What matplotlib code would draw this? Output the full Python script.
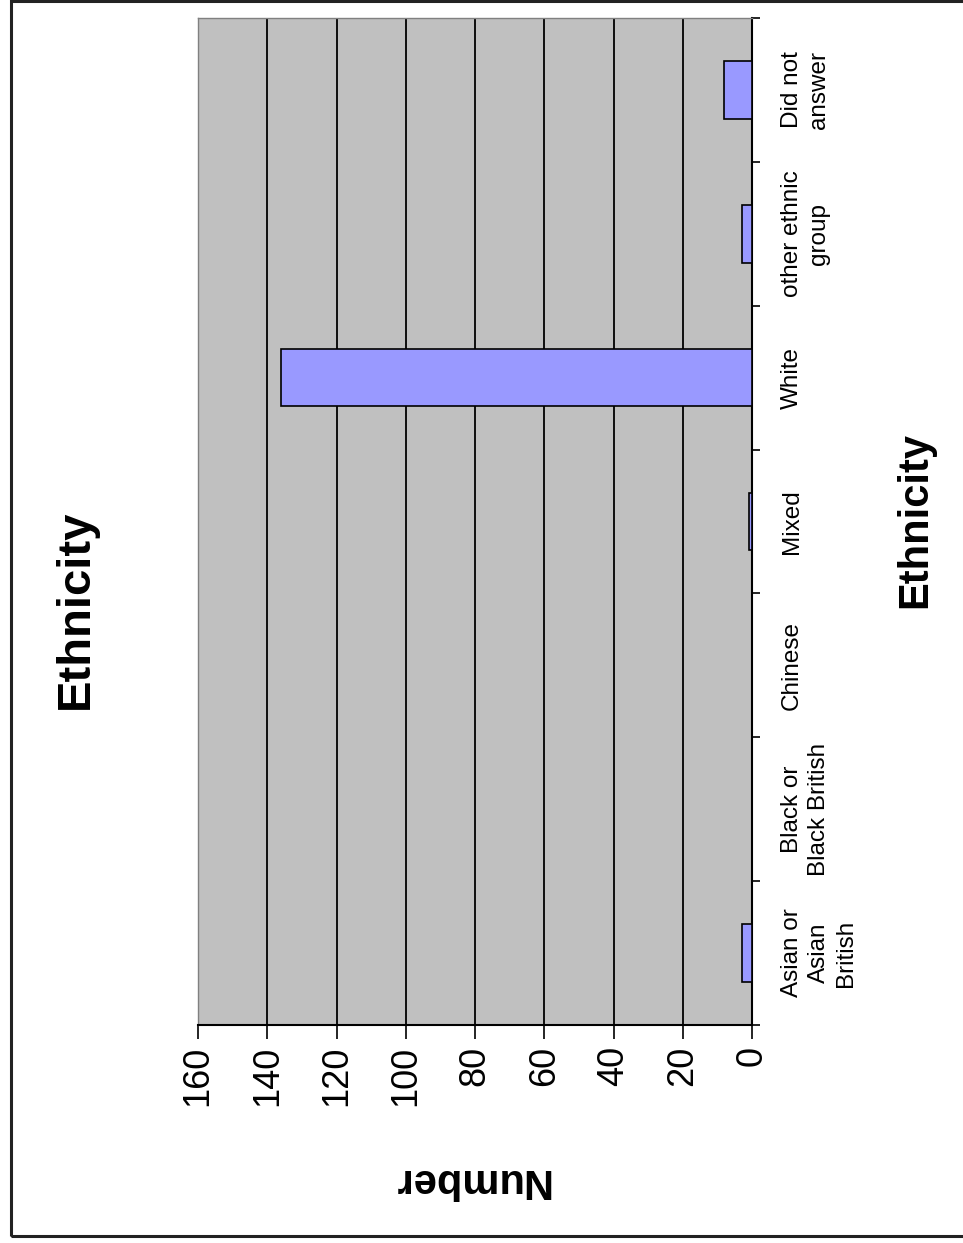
import matplotlib
matplotlib.use("Agg")
import matplotlib.pyplot as plt
from matplotlib.patches import Rectangle

plt.rcParams['font.family'] = ['Liberation Sans', 'DejaVu Sans']

# survey responses by ethnic group
categories = ["Asian or\nAsian\nBritish", "Black or\nBlack British", "Chinese",
              "Mixed", "White", "other ethnic\ngroup", "Did not\nanswer"]
counts = [3, 0, 0, 1, 136, 3, 8]
value_ticks = [0, 20, 40, 60, 80, 100, 120, 140, 160]

fig = plt.figure(figsize=(9.63, 12.43), dpi=100)
fig.patch.set_facecolor("white")

# chart is laid out sideways: values run right-to-left, categories bottom-to-top
ax = fig.add_axes([198 / 963, 1 - 1025 / 1243, 554 / 963, 1007 / 1243])
ax.set_facecolor("#C0C0C0")
ypos = list(range(len(categories)))
ax.barh(ypos, counts, height=0.4, color="#9999FF", edgecolor="black",
        linewidth=1.2, zorder=3)

ax.set_xlim(160, 0)
ax.set_ylim(-0.5, len(categories) - 0.5)
ax.set_xticks(value_ticks)
ax.set_xticklabels([str(v) for v in value_ticks], rotation=90, fontsize=26)
ax.tick_params(axis="x", direction="out", length=10, width=1.2, pad=5)
for v in value_ticks[1:-1]:
    ax.axvline(v, color="black", linewidth=1.3, zorder=1)

ax.yaxis.tick_right()
ax.set_yticks(ypos)
ax.set_yticklabels(categories, rotation=90, fontsize=17.5, va="center",
                   ha="left", multialignment="center", linespacing=1.3)
ax.set_yticks([y - 0.5 for y in range(len(categories) + 1)], minor=True)
ax.tick_params(axis="y", which="major", length=0, pad=21)
ax.tick_params(axis="y", which="minor", direction="out", length=6, width=1.2)

for side in ("left", "top"):
    ax.spines[side].set_color("#808080")
    ax.spines[side].set_linewidth(1.0)
for side in ("right", "bottom"):
    ax.spines[side].set_color("black")
    ax.spines[side].set_linewidth(1.5)

fig.text(76 / 963, 1 - 609 / 1243, "Ethnicity", rotation=90, fontsize=34,
         fontweight="bold", ha="center", va="center")
fig.text(915 / 963, 1 - 520 / 1243, "Ethnicity", rotation=90, fontsize=30,
         fontweight="bold", ha="center", va="center")
fig.text(471 / 963, 1 - 1180 / 1243, "Number", rotation=180, fontsize=30,
         fontweight="bold", ha="center", va="center")

# outer chart border
fig.add_artist(Rectangle((11 / 963, 1 - 1236 / 1243), 1.0, 1235 / 1243,
                         transform=fig.transFigure, fill=False,
                         edgecolor="#222222", linewidth=2.2))

fig.savefig("out.png", dpi=100)
